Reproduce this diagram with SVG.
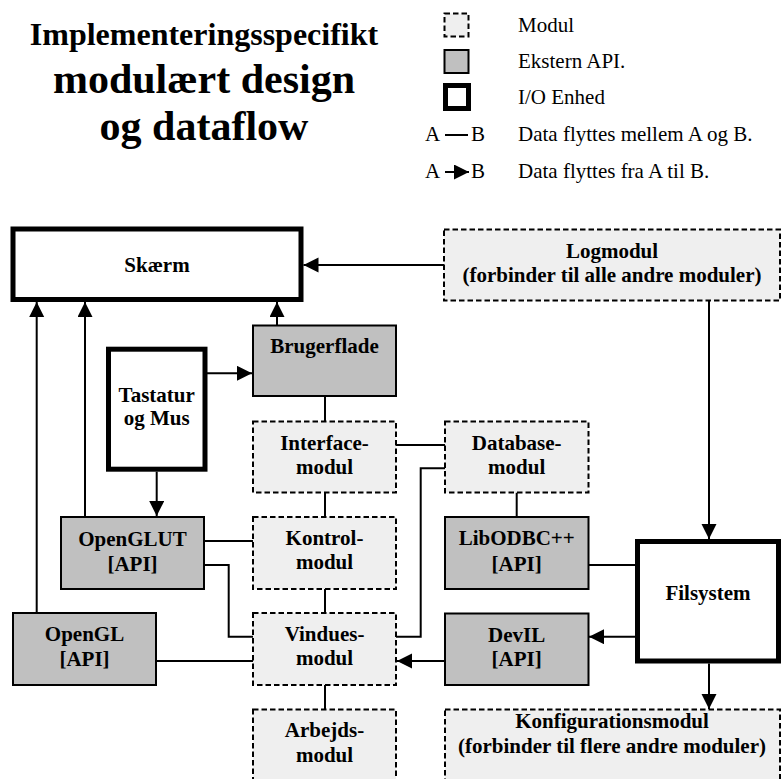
<svg xmlns="http://www.w3.org/2000/svg" width="781" height="779" viewBox="0 0 781 779">
  <defs>
    <marker id="arrow" markerUnits="userSpaceOnUse" markerWidth="16" markerHeight="16" refX="15" refY="7.5" orient="auto">
      <path d="M0,0 L15,7.5 L0,15 z" fill="#000"/>
    </marker>
    <style>
      .title { font-family: "Liberation Serif", "Times New Roman", serif; font-weight: bold; text-anchor: middle; fill: #000; }
      .legend { font-family: "Liberation Serif", "Times New Roman", serif; font-size: 21px; fill: #000; }
      .label { font-family: "Liberation Serif", "Times New Roman", serif; font-weight: bold; font-size: 21px; text-anchor: middle; fill: #000; }
      .module { fill: #efefef; stroke: #000; stroke-width: 2; stroke-dasharray: 5.5 3; }
      .api { fill: #c0c0c0; stroke: #000; stroke-width: 2; }
      .io { fill: #fff; stroke: #000; stroke-width: 5; }
      .link { fill: none; stroke: #000; stroke-width: 2; }
      .flow { fill: none; stroke: #000; stroke-width: 2; marker-end: url(#arrow); }
    </style>
  </defs>

  <rect width="781" height="779" fill="#fff"/>

  <!-- Title -->
  <g id="title">
    <text class="title" x="204" y="45" font-size="32">Implementeringsspecifikt</text>
    <text class="title" x="204" y="93" font-size="42">modulært design</text>
    <text class="title" x="204" y="140" font-size="42">og dataflow</text>
  </g>

  <!-- Legend -->
  <g id="legend">
    <rect class="module" x="444.5" y="13.5" width="24" height="23"/>
    <text class="legend" x="518" y="32">Modul</text>
    <rect class="api" x="444.5" y="50" width="24" height="23"/>
    <text class="legend" x="518" y="68">Ekstern API.</text>
    <rect class="io" x="445.5" y="85.5" width="23" height="23"/>
    <text class="legend" x="518" y="104">I/O Enhed</text>
    <text class="legend" x="425" y="141">A</text>
    <line class="link" x1="445" y1="135" x2="468" y2="135"/>
    <text class="legend" x="471" y="141">B</text>
    <text class="legend" x="518" y="141">Data flyttes mellem A og B.</text>
    <text class="legend" x="425" y="178">A</text>
    <line class="flow" x1="445" y1="172" x2="469" y2="172"/>
    <text class="legend" x="471" y="178">B</text>
    <text class="legend" x="518" y="178">Data flyttes fra A til B.</text>
  </g>

  <!-- Connectors -->
  <g id="connectors">
    <path class="flow" d="M444 265 H303.5"/>
    <path class="flow" d="M36.7 613 V302"/>
    <path class="flow" d="M85 517 V302"/>
    <path class="flow" d="M277 325.5 V302"/>
    <path class="flow" d="M207 373.3 H252"/>
    <path class="flow" d="M156.7 471.7 V516"/>
    <path class="link" d="M325 396 V421.5"/>
    <path class="link" d="M396 445 H445"/>
    <path class="link" d="M445 468.3 H420.7 V636.7 H396"/>
    <path class="link" d="M325 492.5 V517"/>
    <path class="link" d="M325 589 V613"/>
    <path class="link" d="M325 685 V709.5"/>
    <path class="link" d="M516.7 492.5 V517"/>
    <path class="link" d="M204 541 H253"/>
    <path class="link" d="M204 565 H228.7 V636.7 H253"/>
    <path class="link" d="M156 661 H253"/>
    <path class="flow" d="M445 661 H397"/>
    <path class="link" d="M588.5 565 H635"/>
    <path class="flow" d="M635 636.7 H589"/>
    <path class="flow" d="M709 300.5 V539"/>
    <path class="flow" d="M709 663.5 V709"/>
  </g>

  <!-- Nodes -->
  <g id="skaerm">
    <rect class="io" x="13" y="229" width="288" height="70.5"/>
    <text class="label" x="157" y="271.5">Skærm</text>
  </g>
  <g id="logmodul">
    <rect class="module" x="444" y="229.5" width="336" height="71"/>
    <text class="label" x="612" y="257.5">Logmodul</text>
    <text class="label" x="612" y="281.5">(forbinder til alle andre moduler)</text>
  </g>
  <g id="brugerflade">
    <rect class="api" x="253" y="325.5" width="143" height="70.5"/>
    <text class="label" x="324.5" y="353.3">Brugerflade</text>
  </g>
  <g id="tastatur">
    <rect class="io" x="108.5" y="349.2" width="96.5" height="120"/>
    <text class="label" x="156.7" y="401.7">Tastatur</text>
    <text class="label" x="156.7" y="425">og Mus</text>
  </g>
  <g id="interfacemodul">
    <rect class="module" x="253" y="421.5" width="143" height="71"/>
    <text class="label" x="324.5" y="450">Interface-</text>
    <text class="label" x="324.5" y="474">modul</text>
  </g>
  <g id="databasemodul">
    <rect class="module" x="445" y="421.5" width="143.5" height="71"/>
    <text class="label" x="516.7" y="450">Database-</text>
    <text class="label" x="516.7" y="474">modul</text>
  </g>
  <g id="openglut">
    <rect class="api" x="61" y="517" width="143" height="72"/>
    <text class="label" x="132.5" y="545.5">OpenGLUT</text>
    <text class="label" x="132.5" y="570.5">[API]</text>
  </g>
  <g id="kontrolmodul">
    <rect class="module" x="253" y="517" width="143" height="72"/>
    <text class="label" x="324.5" y="545">Kontrol-</text>
    <text class="label" x="324.5" y="569.3">modul</text>
  </g>
  <g id="libodbc">
    <rect class="api" x="445" y="517" width="143.5" height="72"/>
    <text class="label" x="516.7" y="545">LibODBC++</text>
    <text class="label" x="516.7" y="570.5">[API]</text>
  </g>
  <g id="filsystem">
    <rect class="io" x="637.5" y="541.5" width="141" height="119.5"/>
    <text class="label" x="708" y="600">Filsystem</text>
  </g>
  <g id="opengl">
    <rect class="api" x="13" y="613" width="143" height="72"/>
    <text class="label" x="84.5" y="641">OpenGL</text>
    <text class="label" x="84.5" y="666">[API]</text>
  </g>
  <g id="vinduesmodul">
    <rect class="module" x="253" y="613" width="143" height="72"/>
    <text class="label" x="324.5" y="641">Vindues-</text>
    <text class="label" x="324.5" y="665">modul</text>
  </g>
  <g id="devil">
    <rect class="api" x="445" y="613.5" width="143.5" height="71.5"/>
    <text class="label" x="516.7" y="641.5">DevIL</text>
    <text class="label" x="516.7" y="666">[API]</text>
  </g>
  <g id="arbejdsmodul">
    <rect class="module" x="253" y="709.5" width="143" height="72"/>
    <text class="label" x="324.5" y="737">Arbejds-</text>
    <text class="label" x="324.5" y="761.5">modul</text>
  </g>
  <g id="konfigurationsmodul">
    <rect class="module" x="445" y="709.5" width="335" height="72"/>
    <text class="label" x="612" y="728.3">Konfigurationsmodul</text>
    <text class="label" x="612" y="753.3">(forbinder til flere andre moduler)</text>
  </g>
</svg>
